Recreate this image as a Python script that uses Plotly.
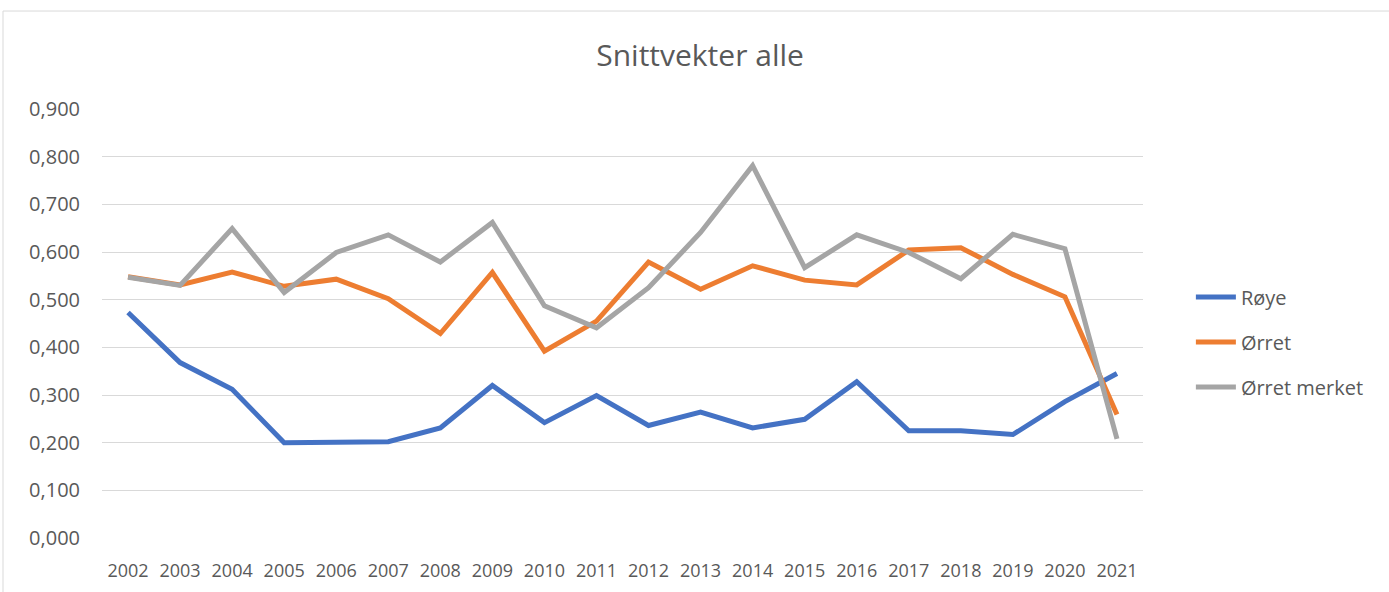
import plotly.graph_objects as go

years = [str(y) for y in range(2002, 2022)]
roye = [0.473, 0.368, 0.312, 0.200, 0.201, 0.202, 0.231, 0.320, 0.242, 0.299,
        0.236, 0.264, 0.231, 0.249, 0.328, 0.225, 0.225, 0.217, 0.286, 0.345]
orret = [0.548, 0.531, 0.558, 0.528, 0.543, 0.502, 0.429, 0.557, 0.392, 0.455,
         0.579, 0.522, 0.571, 0.541, 0.531, 0.604, 0.609, 0.553, 0.506, 0.259]
orret_merket = [0.547, 0.530, 0.649, 0.515, 0.599, 0.636, 0.579, 0.662, 0.487, 0.441,
                0.525, 0.641, 0.781, 0.567, 0.636, 0.599, 0.544, 0.637, 0.607, 0.208]
y_ticks = [0.0, 0.1, 0.2, 0.3, 0.4, 0.5, 0.6, 0.7, 0.8, 0.9]

series = [("Røye", roye, "#4472C4"),
          ("Ørret", orret, "#ED7D31"),
          ("Ørret merket", orret_merket, "#A5A5A5")]

fig = go.Figure()
for name, vals, col in series:
    fig.add_trace(go.Scatter(x=years, y=vals, name=name, mode="lines",
                             line=dict(color=col, width=5),
                             legendgroup=name))

font_fam = "Open Sans, sans-serif"
fig.update_layout(
    width=1389, height=592,
    margin=dict(l=102, r=246, t=109, b=54),
    paper_bgcolor="white", plot_bgcolor="white",
    separators=", ",
    font=dict(family=font_fam, color="#595959", size=18),
    title=dict(text="Snittvekter alle", x=0.504, xanchor="center",
               y=0.906, yanchor="middle",
               font=dict(size=30, color="#595959", family=font_fam)),
    xaxis=dict(type="category", range=[-0.5, 19.5], showgrid=False,
               showline=False, zeroline=False, ticks="", automargin=False,
               tickfont=dict(size=18), ticklabelstandoff=20),
    yaxis=dict(range=[0, 0.9], tickvals=y_ticks, tickformat=".3f",
               showgrid=True, gridcolor="#D9D9D9", gridwidth=1,
               zeroline=False, showline=False, ticks="", automargin=False,
               tickfont=dict(size=20), ticklabelstandoff=21),
    legend=dict(x=1.046, xanchor="left", y=0.457, yanchor="middle",
                font=dict(size=20, color="#595959"),
                tracegroupgap=16, itemwidth=40),
    shapes=[dict(type="rect", xref="paper", yref="paper",
                 x0=-0.0951, x1=1.25, y0=-0.2, y1=1.2284,
                 line=dict(color="#D9D9D9", width=1), layer="below")],
)

fig.write_html("out.html", config={"displayModeBar": False},
               post_script="document.body.style.margin='0';")
